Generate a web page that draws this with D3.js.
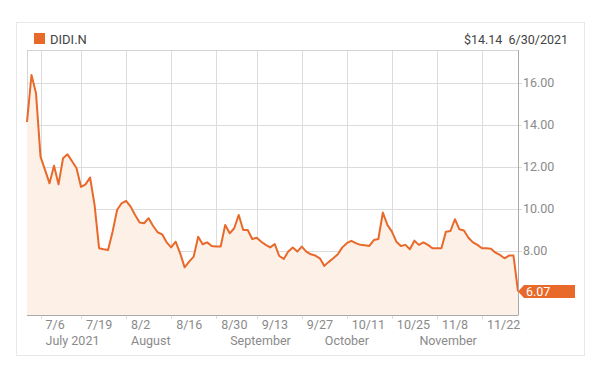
<!DOCTYPE html>
<html>
<head>
<meta charset="utf-8">
<script src="https://cdn.jsdelivr.net/npm/d3@7"></script>
<style>
  html, body { margin: 0; padding: 0; background: #fff; }
  svg { display: block; font-family: Roboto, "Noto Sans", sans-serif; }
</style>
</head>
<body>
<svg id="chart" width="600" height="372"></svg>
<script>
// trading days shown on the x axis
var dates = [
    '6/30', '7/1', '7/2', '7/6', '7/7', '7/8', '7/9', '7/12', '7/13', '7/14', '7/15', '7/16',
    '7/19', '7/20', '7/21', '7/22', '7/23', '7/26', '7/27', '7/28', '7/29', '7/30',
    '8/2', '8/3', '8/4', '8/5', '8/6', '8/9', '8/10', '8/11', '8/12', '8/13',
    '8/16', '8/17', '8/18', '8/19', '8/20', '8/23', '8/24', '8/25', '8/26', '8/27', '8/30', '8/31',
    '9/1', '9/2', '9/3', '9/7', '9/8', '9/9', '9/10', '9/13', '9/14', '9/15', '9/16', '9/17',
    '9/20', '9/21', '9/22', '9/23', '9/24', '9/27', '9/28', '9/29', '9/30',
    '10/1', '10/4', '10/5', '10/6', '10/7', '10/8', '10/11', '10/12', '10/13', '10/14', '10/15',
    '10/18', '10/19', '10/20', '10/21', '10/22', '10/25', '10/26', '10/27', '10/28', '10/29',
    '11/1', '11/2', '11/3', '11/4', '11/5', '11/8', '11/9', '11/10', '11/11', '11/12',
    '11/15', '11/16', '11/17', '11/18', '11/19', '11/22', '11/23', '11/24', '11/26', '11/29', '11/30',
    '12/1', '12/2', '12/3'
];
// closing prices
var prices = [
    14.14, 16.38, 15.51, 12.49, 11.86, 11.22, 12.06, 11.17, 12.41, 12.60, 12.27, 11.94,
    11.05, 11.17, 11.50, 10.19, 8.13, 8.08, 8.05, 8.92, 9.95, 10.27,
    10.38, 10.11, 9.71, 9.35, 9.32, 9.56, 9.19, 8.89, 8.79, 8.41,
    8.17, 8.44, 7.89, 7.22, 7.49, 7.73, 8.68, 8.32, 8.41, 8.24, 8.21, 8.21,
    9.24, 8.84, 9.08, 9.71, 9.00, 9.00, 8.57, 8.63, 8.44, 8.29, 8.17, 8.33,
    7.76, 7.62, 7.97, 8.16, 7.97, 8.21, 7.97, 7.84, 7.78,
    7.65, 7.29, 7.48, 7.65, 7.84, 8.17, 8.37, 8.48, 8.37, 8.29, 8.27,
    8.24, 8.52, 8.57, 9.83, 9.24, 8.92, 8.44, 8.24, 8.29, 8.08,
    8.49, 8.29, 8.41, 8.29, 8.13, 8.13, 8.13, 8.92, 8.95, 9.51,
    9.03, 8.97, 8.63, 8.41, 8.29, 8.13, 8.13, 8.11, 7.92, 7.81, 7.65,
    7.78, 7.78, 6.07
];
var dateTicks = ['7/6', '7/19', '8/2', '8/16', '8/30', '9/13', '9/27', '10/11', '10/25', '11/8', '11/22'];
var monthLabels = [
    { date: '7/6', label: 'July 2021' },
    { date: '8/2', label: 'August' },
    { date: '9/1', label: 'September' },
    { date: '10/1', label: 'October' },
    { date: '11/1', label: 'November' }
];
var priceTicks = [8, 10, 12, 14, 16];
var symbol = 'DIDI.N';
var firstQuote = '$14.14';
var firstDate = '6/30/2021';

var orange = '#e8692a';
var box = { left: 27, right: 518, top: 50, bottom: 315 };

var svg = d3.select('#chart');

var x = d3.scalePoint().domain(dates).range([box.left, box.right]);
var y = d3.scaleLinear().domain([4.95, 17.57]).range([box.bottom, box.top]);

//outer panel
svg.append('rect')
    .attr('x', 16.5).attr('y', 22.5)
    .attr('width', 568).attr('height', 333)
    .attr('fill', 'none').attr('stroke', '#e8e8e8');

//legend and header
svg.append('rect')
    .attr('x', 34).attr('y', 33).attr('width', 11).attr('height', 11)
    .attr('fill', orange);
svg.append('text')
    .attr('x', 50).attr('y', 43.5)
    .attr('font-size', 13).attr('fill', '#444')
    .text(symbol);
svg.append('text')
    .attr('x', 568).attr('y', 43.5)
    .attr('text-anchor', 'end')
    .attr('font-size', 12.5).attr('fill', '#444')
    .attr('xml:space', 'preserve')
    .text(firstQuote + '  ' + firstDate);

//grid
var grid = svg.append('g');
grid.selectAll('.hgrid')
    .data(priceTicks)
    .enter().append('line')
    .attr('x1', box.left).attr('x2', box.right + 4)
    .attr('y1', function (d) { return Math.round(y(d)) + 0.5; })
    .attr('y2', function (d) { return Math.round(y(d)) + 0.5; })
    .attr('stroke', '#dcdcdc');
grid.selectAll('.vgrid')
    .data(dateTicks)
    .enter().append('line')
    .attr('x1', function (d) { return Math.round(x(d)) + 0.5; })
    .attr('x2', function (d) { return Math.round(x(d)) + 0.5; })
    .attr('y1', box.top).attr('y2', box.bottom + 4)
    .attr('stroke', '#dcdcdc');
//top and left frame
grid.append('line')
    .attr('x1', box.left).attr('x2', box.right)
    .attr('y1', box.top + 0.5).attr('y2', box.top + 0.5)
    .attr('stroke', '#d4d4d4');
grid.append('line')
    .attr('x1', box.left + 0.5).attr('x2', box.left + 0.5)
    .attr('y1', box.top).attr('y2', box.bottom)
    .attr('stroke', '#d4d4d4');

//area + line
var series = dates.map(function (d, i) { return { date: d, price: prices[i] }; });
svg.append('path')
    .datum(series)
    .attr('fill', '#fdf0e7')
    .attr('d', d3.area()
        .x(function (d) { return x(d.date); })
        .y0(box.bottom)
        .y1(function (d) { return y(d.price); }));
svg.append('path')
    .datum(series)
    .attr('fill', 'none')
    .attr('stroke', orange)
    .attr('stroke-width', 2)
    .attr('stroke-linejoin', 'round')
    .attr('d', d3.line()
        .x(function (d) { return x(d.date); })
        .y(function (d) { return y(d.price); }));

//axes
svg.append('line')
    .attr('x1', box.left).attr('x2', box.right + 0.5)
    .attr('y1', box.bottom + 0.5).attr('y2', box.bottom + 0.5)
    .attr('stroke', '#aaa');
svg.append('line')
    .attr('x1', box.right + 0.5).attr('x2', box.right + 0.5)
    .attr('y1', box.top).attr('y2', box.bottom)
    .attr('stroke', '#aaa');

svg.selectAll('.ylab')
    .data(priceTicks)
    .enter().append('text')
    .attr('x', box.right + 5)
    .attr('y', function (d) { return y(d) + 4.5; })
    .attr('font-size', 12.5).attr('fill', '#8a8a8a')
    .text(function (d) { return d.toFixed(2); });

svg.selectAll('.xlab')
    .data(dateTicks)
    .enter().append('text')
    .attr('x', function (d) { return x(d) + 5; })
    .attr('y', 329)
    .attr('font-size', 12.5).attr('fill', '#8a8a8a')
    .text(function (d) { return d; });

svg.selectAll('.mlab')
    .data(monthLabels)
    .enter().append('text')
    .attr('x', function (d) { return x(d.date) + 5; })
    .attr('y', 344.5)
    .attr('font-size', 12.5).attr('fill', '#8a8a8a')
    .text(function (d) { return d.label; });

//last value flag
var last = series[series.length - 1];
var ly = y(last.price);
var lx = x(last.date);
svg.append('path')
    .attr('d', 'M' + lx + ',' + ly + 'L' + (lx + 6) + ',' + (ly - 6.5) + 'H575V' + (ly + 6.5) + 'H' + (lx + 6) + 'Z')
    .attr('fill', orange);
svg.append('text')
    .attr('x', lx + 8).attr('y', ly + 4.5)
    .attr('font-size', 12.5).attr('fill', '#fff')
    .text(last.price.toFixed(2));
</script>
</body>
</html>
